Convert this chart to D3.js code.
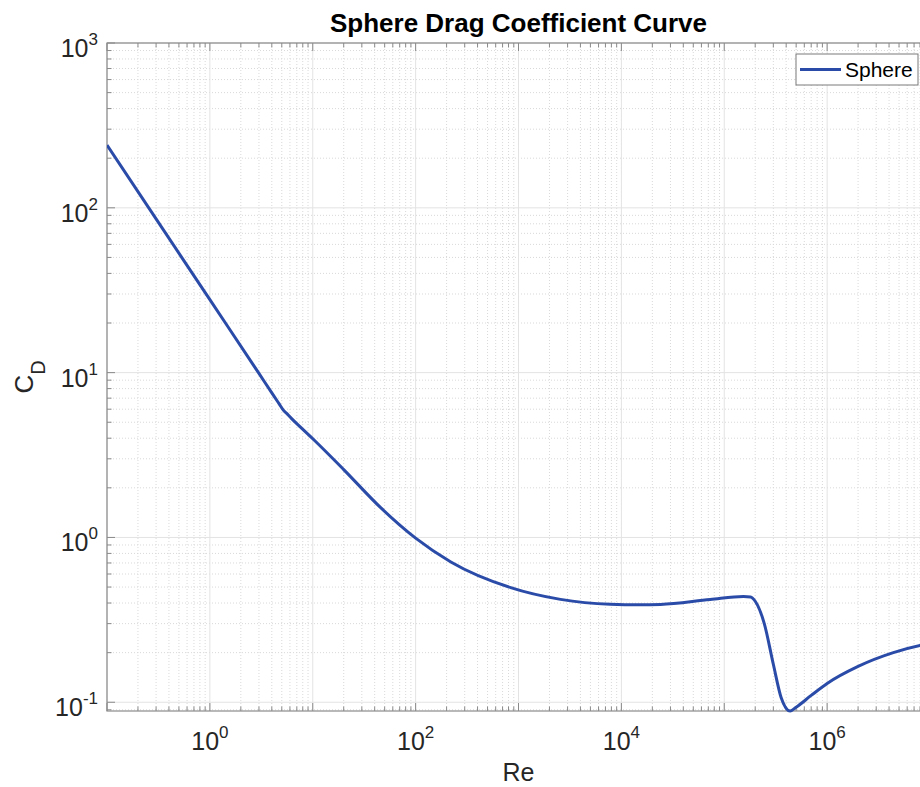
<!DOCTYPE html>
<html>
<head>
<meta charset="utf-8">
<script src="https://cdn.jsdelivr.net/npm/d3@7"></script>
<style>
  html, body { margin: 0; padding: 0; background: #ffffff; }
  svg { display: block; }
  text { font-family: "Liberation Sans", Arial, Helvetica, sans-serif; }
</style>
</head>
<body>
<svg id="chart" width="920" height="787"></svg>
<script>
// ---- data ----
const seriesName = "Sphere";
const reynolds = [0.1, 0.3, 1, 3, 4, 4.7, 5.2, 5.7, 6.2, 7.6, 10.3, 20, 46, 100, 220, 840, 2560, 7800, 15000, 24000, 73000, 154000, 180000, 200000, 245000, 300000, 357000, 437000, 500000, 700000, 1000000, 2000000, 4400000, 8000000, 10000000];
const dragCoef = [240, 85.7, 27.7, 9.89, 7.53, 6.48, 5.9, 5.58, 5.28, 4.67, 3.9, 2.58, 1.51, 0.99, 0.71, 0.496, 0.421, 0.393, 0.39, 0.392, 0.42, 0.438, 0.435, 0.41, 0.30, 0.17, 0.107, 0.0885, 0.0933, 0.110, 0.130, 0.165, 0.2, 0.221, 0.227];
const xTickExps = [0, 2, 4, 6];
const yTickExps = [-1, 0, 1, 2, 3];
const xDomain = [0.1, 1e7];
const yTopValue = 1000;

(function () {
const svg = d3.select("#chart");
const pL = 107, pR = 930, pT = 43, pB = 711;
const x = d3.scaleLog().domain(xDomain).range([pL, pR]);
const y = d3.scaleLog().domain([d3.min(dragCoef), yTopValue]).range([pB, pT]);

const axisColor = "#8a8a8a";
const textColor = "#262626";

function minorVals(scale) {
  const [a, b] = scale.domain();
  const out = [];
  for (let e = Math.floor(Math.log10(a)); e <= Math.ceil(Math.log10(b)); e++) {
    for (let k = 2; k <= 9; k++) {
      const v = k * Math.pow(10, e);
      if (v >= a && v <= b) out.push(v);
    }
  }
  return out;
}
function majorVals(scale) {
  const [a, b] = scale.domain();
  const out = [];
  for (let e = Math.ceil(Math.log10(a) - 1e-9); e <= Math.floor(Math.log10(b) + 1e-9); e++) out.push(Math.pow(10, e));
  return out;
}
const xMinor = minorVals(x), yMinor = minorVals(y);
const xMajor = majorVals(x), yMajor = majorVals(y);

const grid = svg.append("g");
grid.selectAll(".xm").data(xMinor).enter().append("line")
  .attr("x1", d => x(d)).attr("x2", d => x(d)).attr("y1", pT).attr("y2", pB)
  .attr("stroke", "#d9d9d9").attr("stroke-width", 1).attr("stroke-dasharray", "1,2");
grid.selectAll(".ym").data(yMinor).enter().append("line")
  .attr("y1", d => y(d)).attr("y2", d => y(d)).attr("x1", pL).attr("x2", pR)
  .attr("stroke", "#d9d9d9").attr("stroke-width", 1).attr("stroke-dasharray", "1,2");
grid.selectAll(".xM").data(xMajor).enter().append("line")
  .attr("x1", d => x(d)).attr("x2", d => x(d)).attr("y1", pT).attr("y2", pB)
  .attr("stroke", "#e3e3e3").attr("stroke-width", 1);
grid.selectAll(".yM").data(yMajor).enter().append("line")
  .attr("y1", d => y(d)).attr("y2", d => y(d)).attr("x1", pL).attr("x2", pR)
  .attr("stroke", "#e3e3e3").attr("stroke-width", 1);

const ticks = svg.append("g").attr("stroke", axisColor).attr("stroke-width", 1);
function xTick(v, len) {
  ticks.append("line").attr("x1", x(v)).attr("x2", x(v)).attr("y1", pB).attr("y2", pB - len);
  ticks.append("line").attr("x1", x(v)).attr("x2", x(v)).attr("y1", pT).attr("y2", pT + len);
}
function yTick(v, len) {
  ticks.append("line").attr("y1", y(v)).attr("y2", y(v)).attr("x1", pL).attr("x2", pL + len);
}
xMinor.forEach(v => xTick(v, 4.5));
xMajor.forEach(v => xTick(v, 8));
yMinor.forEach(v => yTick(v, 4.5));
yMajor.forEach(v => yTick(v, 8));

svg.append("rect").attr("x", pL).attr("y", pT).attr("width", pR - pL).attr("height", pB - pT)
  .attr("fill", "none").attr("stroke", axisColor).attr("stroke-width", 1.2);

const xl = svg.append("g").attr("fill", textColor);
xTickExps.forEach(e => {
  const t = xl.append("text").attr("x", x(Math.pow(10, e))).attr("y", 750)
    .attr("text-anchor", "middle").attr("font-size", 25);
  t.append("tspan").text("10");
  t.append("tspan").attr("dy", -12).attr("font-size", 17).text(e);
});
const yl = svg.append("g").attr("fill", textColor);
yTickExps.forEach(e => {
  const t = yl.append("text").attr("x", 98).attr("y", y(Math.pow(10, e)) + 14)
    .attr("text-anchor", "end").attr("font-size", 25);
  t.append("tspan").text("10");
  t.append("tspan").attr("dy", -12).attr("font-size", 17).text(e < 0 ? "-" + Math.abs(e) : e);
});

svg.append("clipPath").attr("id", "clip").append("rect")
  .attr("x", pL).attr("y", pT - 2).attr("width", pR - pL).attr("height", pB - pT + 4);
const pts = reynolds.map((r, i) => [r, dragCoef[i]]);
const line = d3.line().x(d => x(d[0])).y(d => y(d[1])).curve(d3.curveMonotoneX);
svg.append("path").datum(pts).attr("d", line).attr("clip-path", "url(#clip)")
  .attr("fill", "none").attr("stroke", "#2b4ba8").attr("stroke-width", 3)
  .attr("stroke-linejoin", "round");

svg.append("text").attr("x", (pL + pR) / 2).attr("y", 32).attr("text-anchor", "middle")
  .attr("font-size", 26).attr("font-weight", "bold").attr("fill", "#000").text("Sphere Drag Coefficient Curve");

svg.append("text").attr("x", (pL + pR) / 2).attr("y", 781).attr("text-anchor", "middle")
  .attr("font-size", 25).attr("fill", textColor).text("Re");
const yLab = svg.append("text").attr("transform", "translate(33,377) rotate(-90)")
  .attr("text-anchor", "middle").attr("font-size", 26).attr("fill", textColor);
yLab.append("tspan").text("C");
yLab.append("tspan").attr("dy", 12).attr("font-size", 20).text("D");

const lg = svg.append("g");
lg.append("rect").attr("x", 796).attr("y", 54).attr("width", 122).attr("height", 31)
  .attr("fill", "#fff").attr("stroke", "#7a7a7a").attr("stroke-width", 1);
lg.append("line").attr("x1", 800).attr("x2", 841).attr("y1", 69.5).attr("y2", 69.5)
  .attr("stroke", "#2b4ba8").attr("stroke-width", 3);
lg.append("text").attr("x", 845).attr("y", 77).attr("font-size", 21).attr("fill", "#000").text(seriesName);
})();
</script>
</body>
</html>
